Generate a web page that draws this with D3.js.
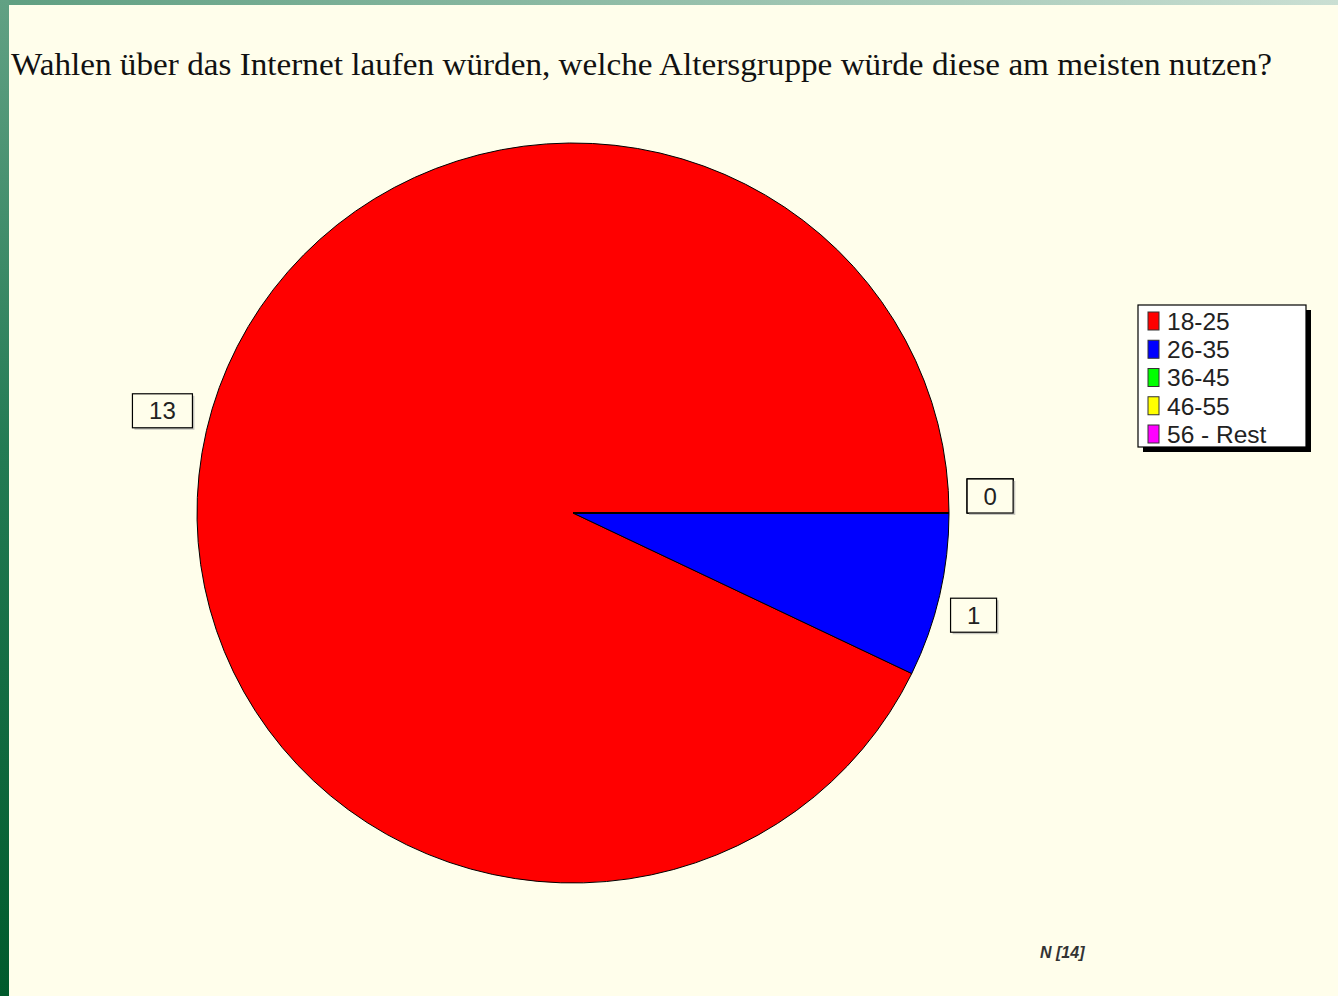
<!DOCTYPE html>
<html>
<head>
<meta charset="utf-8">
<script src="https://cdn.jsdelivr.net/npm/d3@7"></script>
<style>
  html, body { margin: 0; padding: 0; background: #fffeeb; }
  svg { display: block; }
</style>
</head>
<body>
<svg id="chart"></svg>
<script>
// ------ Data
var categories = ["18-25", "26-35", "36-45", "46-55", "56 - Rest"];
var counts = [13, 1, 0, 0, 0];
var sliceColors = ["#ff0000", "#0000ff", "#00ff00", "#ffff00", "#ff00ff"];
var titleText = "Wahlen über das Internet laufen würden, welche Altersgruppe würde diese am meisten nutzen?";
var footText = "N [14]";

// ------ Sizes
var width = 1338, height = 996;
var cx = 573, cy = 513, rx = 376, ry = 370;

var svg = d3.select("#chart").attr("width", width).attr("height", height);

// background + green frame strips
var defs = svg.append("defs");
var gLeft = defs.append("linearGradient").attr("id", "gLeft")
  .attr("x1", 0).attr("y1", 0).attr("x2", 0).attr("y2", 1);
gLeft.append("stop").attr("offset", "0%").attr("stop-color", "#62a184");
gLeft.append("stop").attr("offset", "45%").attr("stop-color", "#237b54");
gLeft.append("stop").attr("offset", "100%").attr("stop-color", "#005a2c");
var gTop = defs.append("linearGradient").attr("id", "gTop")
  .attr("x1", 0).attr("y1", 0).attr("x2", 1).attr("y2", 0);
gTop.append("stop").attr("offset", "0%").attr("stop-color", "#5f9f81");
gTop.append("stop").attr("offset", "100%").attr("stop-color", "#cadfd3");

svg.append("rect").attr("width", width).attr("height", height).attr("fill", "#fffeeb");
svg.append("rect").attr("x", 0).attr("y", 0).attr("width", width).attr("height", 5).attr("fill", "url(#gTop)");
svg.append("rect").attr("x", 0).attr("y", 0).attr("width", 9).attr("height", height).attr("fill", "url(#gLeft)");

// title
svg.append("text")
  .attr("x", 11).attr("y", 75)
  .attr("textLength", 1261).attr("lengthAdjust", "spacingAndGlyphs")
  .style("font-family", "'Liberation Serif', 'Times New Roman', serif")
  .style("font-size", "31px")
  .attr("fill", "#111")
  .text(titleText);

// ------ Pie (starts at 3 o'clock, counter-clockwise)
var pie = d3.pie().sort(null).value(d => d)
  .startAngle(Math.PI / 2).endAngle(Math.PI / 2 - 2 * Math.PI);
var arcs = pie(counts);
var arc = d3.arc().innerRadius(0).outerRadius(rx);

var pieG = svg.append("g")
  .attr("transform", "translate(" + cx + "," + cy + ") scale(1," + (ry / rx) + ")");
pieG.selectAll("path").data(arcs).enter().append("path")
  .attr("d", arc)
  .attr("fill", (d, i) => sliceColors[i])
  .attr("stroke", "#000")
  .attr("stroke-width", 1)
  .attr("vector-effect", "non-scaling-stroke");

// ------ Value labels
var labelG = svg.append("g");
arcs.forEach(function(d, i) {
  var mid = (d.startAngle + d.endAngle) / 2;
  var lx = cx + Math.sin(mid) * rx * 1.12;
  var ly = cy - Math.cos(mid) * ry * 1.12;
  if (d.value === 0) { ly -= 17; lx -= 4; }
  else if (d.value === 1) { ly += 10; lx -= 10; }
  else { ly -= 10; }
  var txt = String(d.value);
  var w = txt.length > 1 ? 60 : 46, h = 34;
  var g = labelG.append("g").attr("transform", "translate(" + lx + "," + ly + ")");
  g.append("rect").attr("x", -w / 2 + 2).attr("y", -h / 2 + 2).attr("width", w).attr("height", h)
    .attr("fill", "#c8c8c0");
  g.append("rect").attr("x", -w / 2).attr("y", -h / 2).attr("width", w).attr("height", h)
    .attr("fill", "#fffeeb").attr("stroke", "#000").attr("stroke-width", 1.2);
  g.append("text").attr("x", 0).attr("y", 0).attr("dy", "0.36em")
    .attr("text-anchor", "middle")
    .style("font-family", "'Liberation Sans', Arial, sans-serif")
    .style("font-size", "24px").attr("fill", "#222")
    .text(txt);
});

// ------ Legend
var legX = 1138, legY = 305, legW = 168, legH = 142;
var leg = svg.append("g");
leg.append("rect").attr("x", legX + 5).attr("y", legY + 5).attr("width", legW).attr("height", legH).attr("fill", "#000");
leg.append("rect").attr("x", legX).attr("y", legY).attr("width", legW).attr("height", legH)
  .attr("fill", "#fff").attr("stroke", "#000").attr("stroke-width", 1.2);
var rowY = d3.scalePoint().domain(categories).range([legY + 16, legY + 129]);
categories.forEach(function(c, i) {
  var y = rowY(c);
  leg.append("rect").attr("x", legX + 10).attr("y", y - 9).attr("width", 11).attr("height", 18)
    .attr("fill", sliceColors[i]).attr("stroke", "#333").attr("stroke-width", 1);
  leg.append("text").attr("x", legX + 29).attr("y", y).attr("dy", "0.36em")
    .style("font-family", "'Liberation Sans', Arial, sans-serif")
    .style("font-size", "24.5px").attr("fill", "#222")
    .text(c);
});

// ------ N
svg.append("text").attr("x", 1040).attr("y", 958)
  .style("font-family", "'Liberation Sans', Arial, sans-serif")
  .style("font-size", "16px").style("font-style", "italic").style("font-weight", "bold")
  .attr("fill", "#333")
  .text(footText);
</script>
</body>
</html>
